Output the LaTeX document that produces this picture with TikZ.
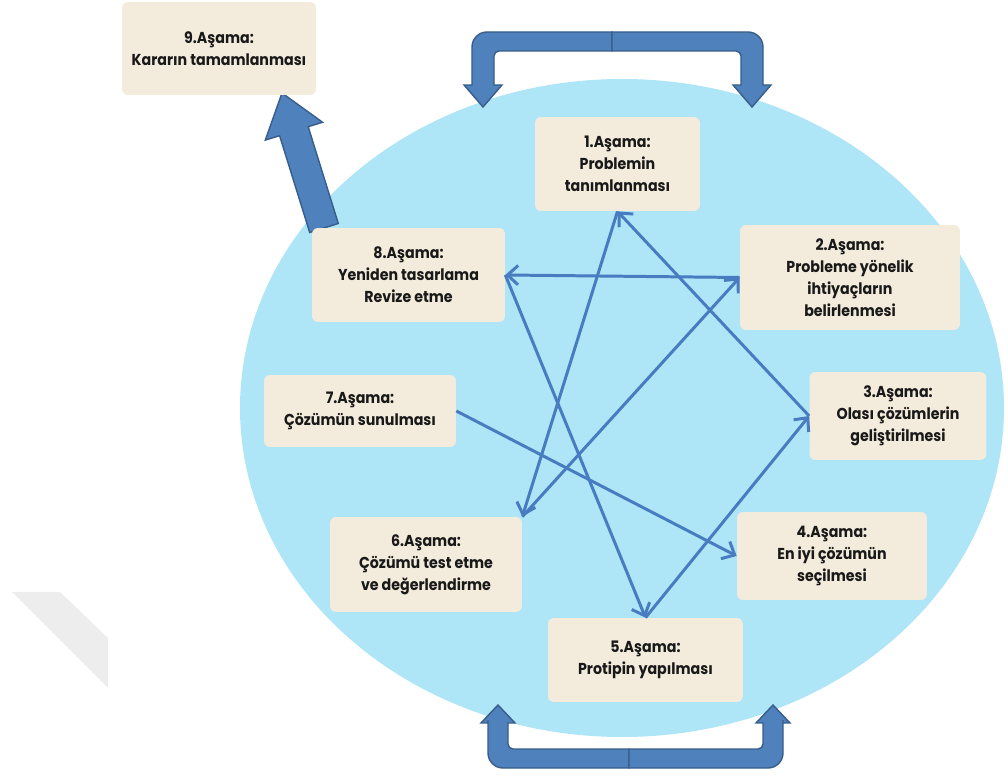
\documentclass[tikz,border=0pt]{standalone}
\usepackage{fontspec}
\setmainfont{Poppins}[FakeStretch=0.9]
\usepackage{xcolor}
\usepackage{tikz}
\usetikzlibrary{arrows.meta}
\definecolor{skyfill}{RGB}{174,229,247}
\definecolor{boxfill}{RGB}{243,236,220}
\definecolor{linkblue}{RGB}{72,124,192}
\definecolor{blockblue}{RGB}{79,129,189}
\definecolor{blockedge}{RGB}{56,93,138}
\definecolor{textdark}{RGB}{25,25,25}

\begin{document}
\begin{tikzpicture}[x=0.02cm, y=-0.02cm,
  stagebox/.style={rectangle, rounded corners=0.12cm, fill=boxfill, text=textdark, font=\bfseries\fontsize{9}{12.5}\selectfont, align=center, inner sep=2pt},
  link/.style={draw=linkblue, line width=1.7pt, -{Straight Barb[length=6pt,width=11pt]}},
  block/.style={fill=blockblue, draw=blockedge, line width=0.8pt}]
  \useasboundingbox (0,0) rectangle (1008,776);
  \fill[black!7] (12,592) -- (60,592) -- (108,638) -- (108,688) -- cycle;
  \fill[skyfill] (622,408) ellipse [x radius=382, y radius=329];

  \filldraw[block] (612,32) [rounded corners=0.3cm] -- (472,32) -- (472,70) [sharp corners] -- (472,85) -- (464,85) -- (483,107) -- (502,85) -- (494,85) -- (494,70) [rounded corners=0.1cm] -- (494,51) -- (560,51) [sharp corners] -- (612,51) -- cycle;
  \filldraw[block] (612,32) [rounded corners=0.3cm] -- (763,32) -- (763,70) [sharp corners] -- (763,85) -- (771,85) -- (752,107) -- (733,85) -- (741,85) -- (741,70) [rounded corners=0.1cm] -- (741,51) -- (660,51) [sharp corners] -- (612,51) -- cycle;
  \filldraw[block] (629,768) [rounded corners=0.3cm] -- (488,768) -- (488,735) [sharp corners] -- (488,723) -- (481,723) -- (498,705) -- (515,723) -- (508,723) -- (508,735) [rounded corners=0.1cm] -- (508,749) -- (580,749) [sharp corners] -- (629,749) -- cycle;
  \filldraw[block] (629,768) [rounded corners=0.3cm] -- (783,768) -- (783,735) [sharp corners] -- (783,723) -- (790,723) -- (773,705) -- (756,723) -- (763,723) -- (763,735) [rounded corners=0.1cm] -- (763,749) -- (680,749) [sharp corners] -- (629,749) -- cycle;
  \filldraw[block] (309.7,232.5) -- (279.6,135.7) -- (265.3,140.1) -- (282,93) -- (322.6,122.3) -- (308.2,126.7) -- (338.3,223.5) -- cycle;

  \node (stage9) [stagebox, minimum width=3.88cm, minimum height=1.86cm] at (219,48.5) {9.Aşama:\\Kararın tamamlanması};
  \node (stage1) [stagebox, minimum width=3.3cm, minimum height=1.88cm] at (617.5,164) {1.Aşama:\\Problemin\\tanımlanması};
  \node (stage2) [stagebox, minimum width=4.4cm, minimum height=2.1cm] at (850,277.5) {2.Aşama:\\Probleme yönelik\\ihtiyaçların\\belirlenmesi};
  \node (stage3) [stagebox, minimum width=3.54cm, minimum height=1.76cm] at (898,416) {3.Aşama:\\Olası çözümlerin\\geliştirilmesi};
  \node (stage4) [stagebox, minimum width=3.8cm, minimum height=1.76cm] at (832,556) {4.Aşama:\\En iyi çözümün\\seçilmesi};
  \node (stage5) [stagebox, minimum width=3.9cm, minimum height=1.68cm] at (645.5,660) {5.Aşama:\\Protipin yapılması};
  \node (stage6) [stagebox, minimum width=3.84cm, minimum height=1.9cm] at (426,564.5) {6.Aşama:\\Çözümü test etme\\ve değerlendirme};
  \node (stage7) [stagebox, minimum width=3.84cm, minimum height=1.44cm] at (360,411) {7.Aşama:\\Çözümün sunulması};
  \node (stage8) [stagebox, minimum width=3.86cm, minimum height=1.88cm] at (408.5,275) {8.Aşama:\\Yeniden tasarlama\\Revize etme};

  \draw[link] (stage3.west) -- (stage1.south);
  \draw[link] (stage5.north) -- (stage3.west);
  \draw[link] (stage8.east) -- (stage5.north);
  \draw[link] (stage2.west) -- (stage8.east);
  \draw[link] (stage6.north east) -- (stage2.west);
  \draw[link] (stage1.south) -- (stage6.north east);
  \draw[link] (stage7.east) -- (stage4.west);
\end{tikzpicture}
\end{document}
